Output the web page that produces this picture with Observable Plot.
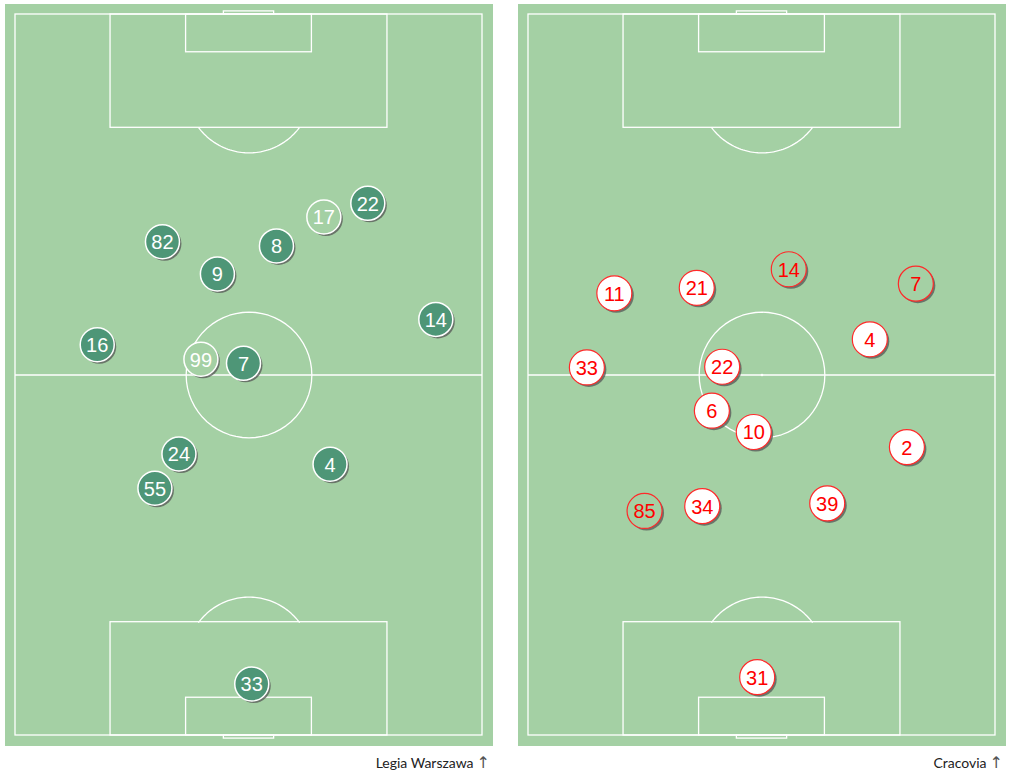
<!DOCTYPE html>
<html>
<head>
<meta charset="utf-8">
<script src="https://cdn.jsdelivr.net/npm/d3@7"></script>
<script src="https://cdn.jsdelivr.net/npm/@observablehq/plot@0.6"></script>
<style>
  html, body { margin: 0; padding: 0; background: #fff; }
  body { width: 1013px; height: 779px; position: relative; overflow: hidden; }
  .panel { position: absolute; top: 4px; width: 488px; }
  .caption { font-family: Lato, "Open Sans", sans-serif; font-size: 14px; color: #222; text-align: right; margin-top: 8px; line-height: 17px; padding-right: 3px; }
  .caption .arrow { color: #555; font-size: 16px; margin-left: 3px; font-family: "DejaVu Sans", sans-serif; }
</style>
</head>
<body>
<div id="left" class="panel" style="left:5px"></div>
<div id="right" class="panel" style="left:518px"></div>
<script>
// ---- Data (pitch coordinates in metres: x across 0..68, y along 0..105, attacking upward) ----
const legiaNumbers = [82, 9, 8, 17, 22, 14, 16, 99, 7, 24, 55, 4, 33];
const legiaX       = [21.4, 29.4, 38.0, 44.9, 51.3, 61.2, 11.9, 27.0, 33.2, 23.8, 20.3, 45.8, 34.4];
const legiaY       = [71.9, 67.2, 71.3, 75.5, 77.5, 60.6, 56.9, 54.8, 54.2, 41.0, 36.0, 39.5, 7.5];
const legiaHollow  = [17, 99];

const cracoviaNumbers = [11, 21, 14, 7, 4, 33, 22, 6, 10, 2, 85, 34, 39, 31];
const cracoviaX       = [12.5, 24.5, 37.9, 56.4, 49.7, 8.5, 28.2, 26.7, 32.8, 55.1, 16.9, 25.3, 43.5, 33.3];
const cracoviaY       = [64.4, 65.2, 67.9, 65.8, 57.7, 53.6, 53.7, 47.3, 44.2, 42.0, 32.7, 33.4, 33.8, 8.5];
const cracoviaHollow  = [14, 7, 85];

const teams = ["Legia Warszawa", "Cracovia"];

// ---- Pitch geometry (metres) ----
const L = 105, W = 68;
const boxes = [
  {x1: 0, x2: W, y1: 0, y2: L},                          // outline
  {x1: 13.84, x2: 54.16, y1: 0, y2: 16.5},               // penalty areas
  {x1: 13.84, x2: 54.16, y1: L - 16.5, y2: L},
  {x1: 24.84, x2: 43.16, y1: 0, y2: 5.5},                // goal areas
  {x1: 24.84, x2: 43.16, y1: L - 5.5, y2: L},
  {x1: 30.34, x2: 37.66, y1: -0.45, y2: 0},              // goals
  {x1: 30.34, x2: 37.66, y1: L, y2: L + 0.45}
];
const R = 9.15;
function arcPoints(cx, cy, a0, a1, id) {
  return d3.range(0, 61).map(i => {
    const a = a0 + (a1 - a0) * i / 60;
    return {x: cx + R * Math.cos(a), y: cy + R * Math.sin(a), id};
  });
}
const t = Math.asin(5.5 / R);
const arcs = [
  ...arcPoints(W / 2, 11, t, Math.PI - t, "bottom"),
  ...arcPoints(W / 2, L - 11, Math.PI + t, 2 * Math.PI - t, "top"),
  ...arcPoints(W / 2, L / 2, 0, 2 * Math.PI, "centre")
];

const GRASS = "#a4d0a4";

function players(nums, xs, ys, hollow) {
  return nums.map((n, i) => ({num: n, x: xs[i], y: ys[i], hollow: hollow.includes(n)}));
}

function pitchPlot(data, style) {
  const lineStyle = {stroke: "white", strokeWidth: 1.3};
  return Plot.plot({
    width: 488,
    height: 742,
    marginLeft: 10, marginRight: 11, marginTop: 10, marginBottom: 11,
    x: {domain: [0, W], axis: null},
    y: {domain: [0, L], axis: null},
    style: {background: GRASS, overflow: "visible"},
    marks: [
      Plot.rect(boxes, {x1: "x1", x2: "x2", y1: "y1", y2: "y2", fill: "none", ...lineStyle}),
      Plot.ruleY([L / 2], {x1: 0, x2: W, ...lineStyle}),
      Plot.line(arcs, {x: "x", y: "y", z: "id", ...lineStyle}),
      Plot.dot([{x: W / 2, y: L / 2}], {x: "x", y: "y", r: 1.3, fill: "white"}),
      // shadows
      Plot.dot(data, {x: "x", y: "y", r: style.r, dx: 2, dy: 2, fill: "#555", fillOpacity: 0.75}),
      // discs
      Plot.dot(data, {x: "x", y: "y", r: style.r,
        fill: d => d.hollow ? GRASS : style.fill,
        stroke: style.stroke, strokeWidth: style.strokeWidth}),
      Plot.text(data, {x: "x", y: "y", text: "num", fill: style.text,
        fontSize: 20, fontFamily: "Liberation Sans, Arial, sans-serif", dy: 1})
    ]
  });
}

function render(id, team, data, style) {
  const el = document.getElementById(id);
  el.appendChild(pitchPlot(data, style));
  const cap = document.createElement("div");
  cap.className = "caption";
  cap.innerHTML = `${team}<span class="arrow">↑</span>`;
  el.appendChild(cap);
}

render("left", teams[0], players(legiaNumbers, legiaX, legiaY, legiaHollow),
  {r: 17, fill: "#4e9677", stroke: "white", strokeWidth: 1.5, text: "white"});
render("right", teams[1], players(cracoviaNumbers, cracoviaX, cracoviaY, cracoviaHollow),
  {r: 17.5, fill: "white", stroke: "#ff2a2a", strokeWidth: 1.2, text: "#ff0000"});
</script>
</body>
</html>
